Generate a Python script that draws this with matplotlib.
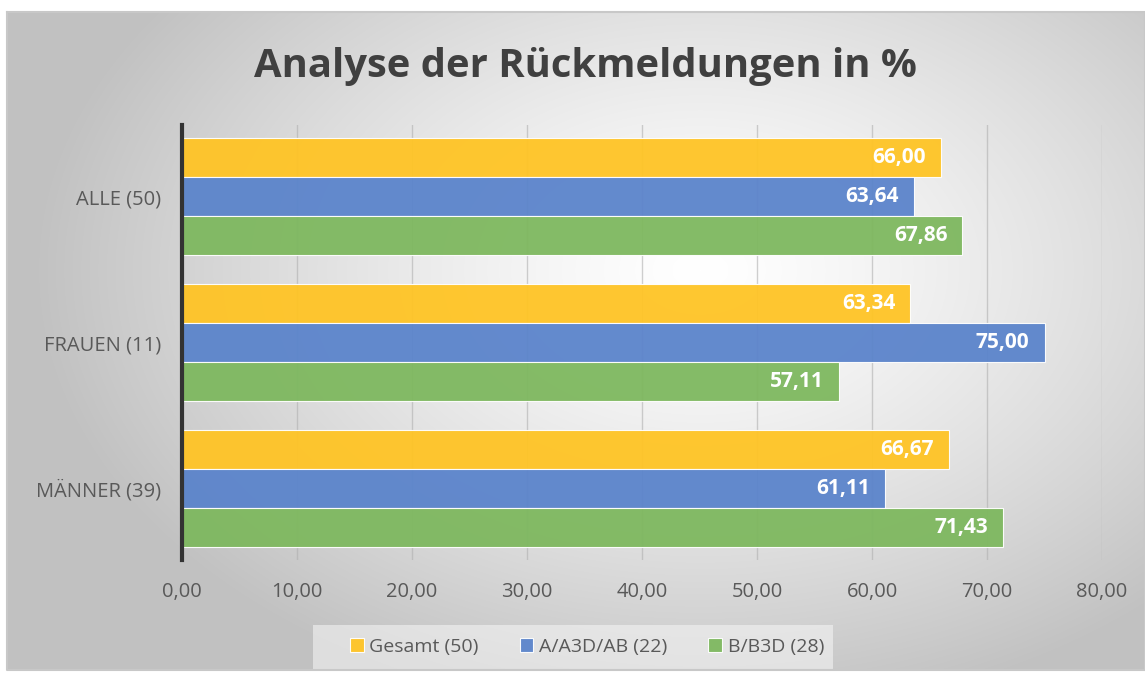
import numpy as np
import matplotlib.pyplot as plt

plt.rcParams['font.family'] = ['Open Sans', 'DejaVu Sans']

categories = ['ALLE (50)', 'FRAUEN (11)', 'MÄNNER (39)']
series_names = ['Gesamt (50)', 'A/A3D/AB (22)', 'B/B3D (28)']
gesamt = [66.00, 63.34, 66.67]
a_gruppe = [63.64, 75.00, 61.11]
b_gruppe = [67.86, 57.11, 71.43]
xticks = [0, 10, 20, 30, 40, 50, 60, 70, 80]

colors = ['#FFC425', '#5B84CB', '#7EB85F']
W, H = 1145, 677

fig = plt.figure(figsize=(W / 100, H / 100), dpi=100)

# hintergrund: radialer verlauf
bg = fig.add_axes([0, 0, 1, 1])
yy, xx = np.mgrid[0:H, 0:W]
r = np.sqrt(((xx - 700) / 620.0) ** 2 + ((yy - 270) / 420.0) ** 2)
shade = np.clip(1.0 - 0.22 * r ** 1.3, 0.76, 1.0)
img = np.dstack([shade, shade, shade])
img[:12, :] = 1.0
img[:, :7] = 1.0
img[670:, :] = 1.0
bg.imshow(img, extent=[0, W, H, 0], aspect='auto')
bg.plot([7, W, W, 7, 7], [12, 12, 670, 670, 12], color='#c8c8c8', lw=1.5)
bg.set_xlim(0, W)
bg.set_ylim(H, 0)
bg.axis('off')
bg.add_patch(plt.Rectangle((313, 625), 520, 44, color='#f7f7f7', alpha=0.55, lw=0))

ax = fig.add_axes([182 / W, 1 - 560 / H, (1102 - 182) / W, (560 - 125) / H])
ax.patch.set_alpha(0)

y = np.arange(len(categories))
h = 0.262
step = 0.267
for i, (vals, name) in enumerate(zip([gesamt, a_gruppe, b_gruppe], series_names)):
    pos = y + (i - 1) * step
    bars = ax.barh(pos, vals, height=h, color=colors[i], edgecolor='white',
                   linewidth=0.8, label=name, zorder=2, alpha=0.95)
    for b, v in zip(bars, vals):
        ax.text(v - 1.3, b.get_y() + b.get_height() / 2, f'{v:.2f}'.replace('.', ','),
                ha='right', va='center', color='white', fontsize=15,
                fontweight='bold', zorder=4)

ax.set_xlim(0, 80)
ax.set_ylim(2.49, -0.49)
ax.set_xticks(xticks)
ax.set_xticklabels([f'{t:.2f}'.replace('.', ',') for t in xticks])
ax.set_yticks(y)
ax.set_yticklabels(categories)
ax.tick_params(axis='x', length=0, pad=16, labelsize=14.5, labelcolor='#595959')
ax.tick_params(axis='y', length=0, pad=15, labelsize=14.5, labelcolor='#595959')
ax.grid(axis='x', color='#b0b0b0', lw=1, alpha=0.6, zorder=3)
for s in ['top', 'right', 'bottom']:
    ax.spines[s].set_visible(False)
ax.spines['left'].set_color('#333333')
ax.spines['left'].set_linewidth(3)
ax.spines['left'].set_zorder(5)

fig.text(585 / W, 1 - 66 / H, 'Analyse der Rückmeldungen in %', ha='center',
         va='center', fontsize=28.8, fontweight='bold', color='#404040')

fig.legend(loc='center', bbox_to_anchor=(587 / W, 1 - 647 / H), ncol=3,
           frameon=False, fontsize=14, handlelength=0.7, handleheight=0.7,
           handletextpad=0.3, columnspacing=2.1, labelcolor='#595959')

fig.savefig('out.png', dpi=100)
